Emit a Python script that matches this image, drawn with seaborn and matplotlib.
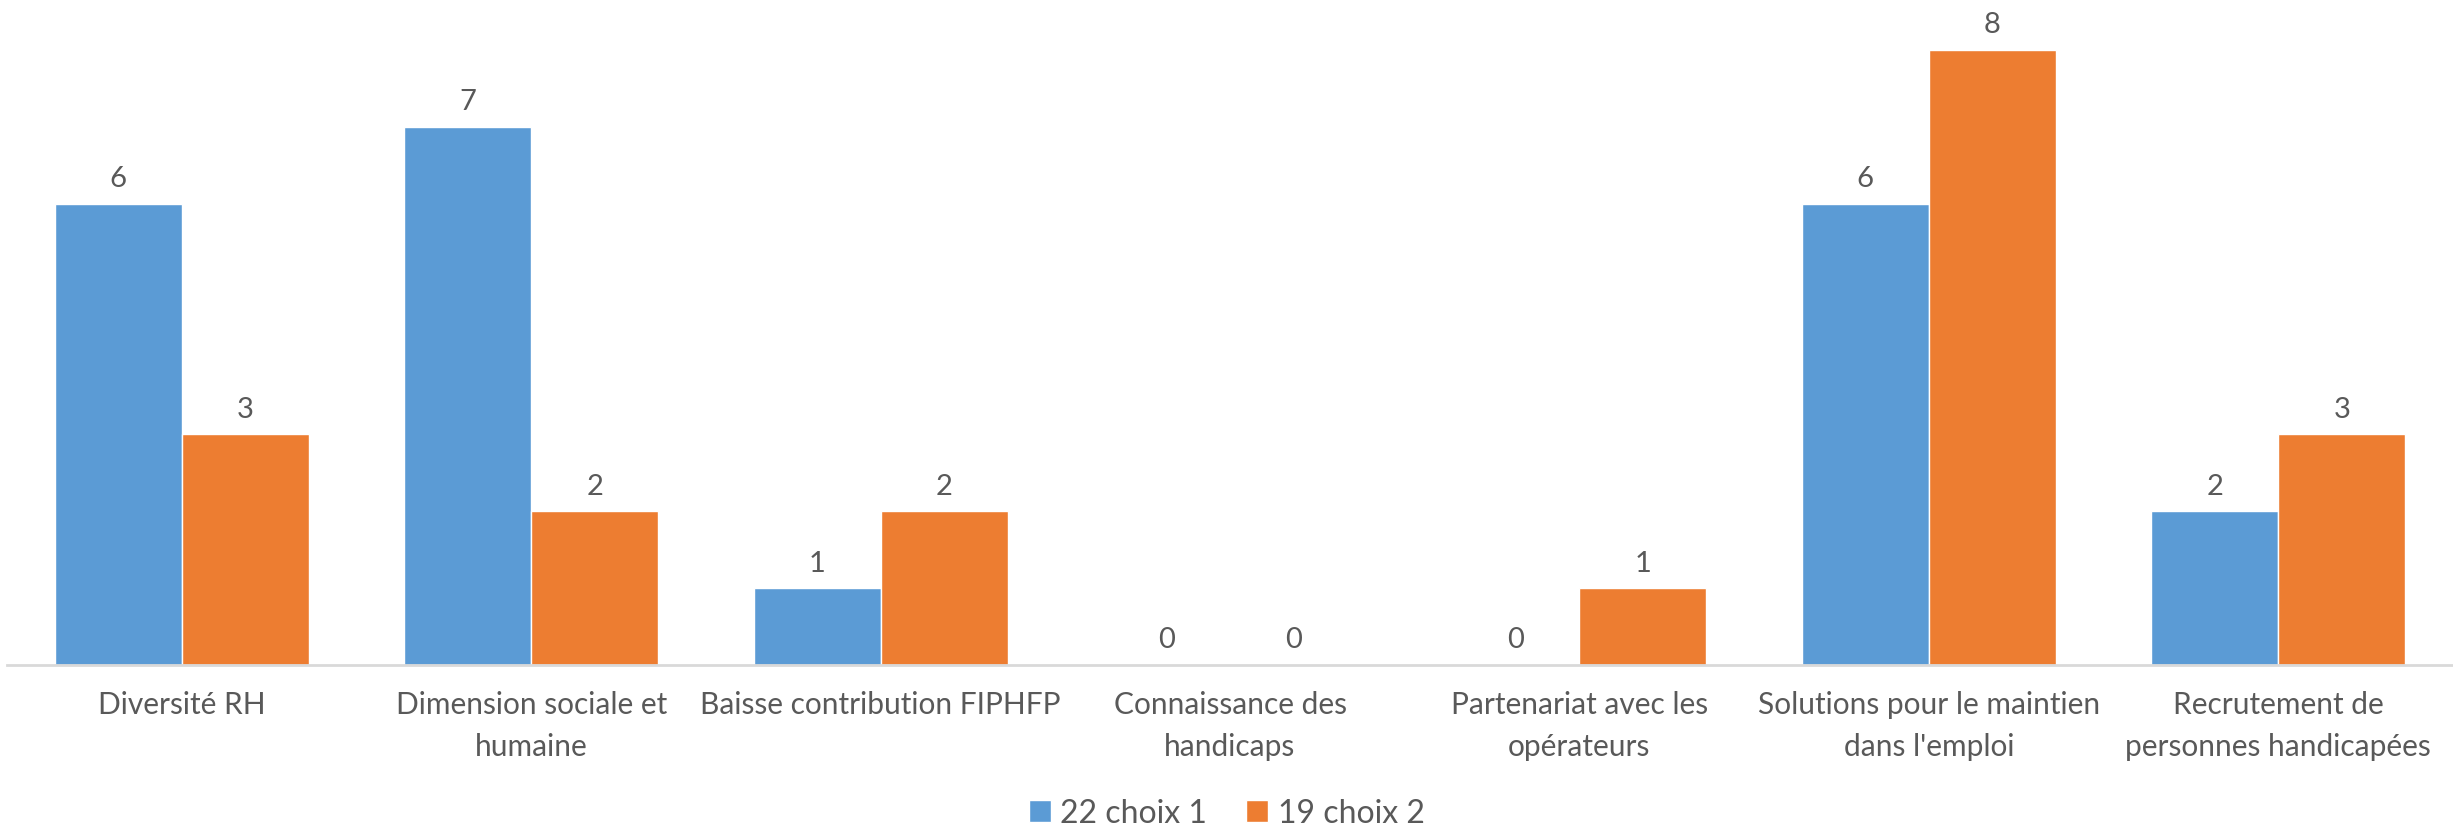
import matplotlib
matplotlib.use("Agg")
import matplotlib.pyplot as plt
import seaborn as sns
import pandas as pd

# values
categories = ["Diversité RH", "Dimension sociale et\nhumaine", "Baisse contribution FIPHFP",
              "Connaissance des\nhandicaps", "Partenariat avec les\nopérateurs",
              "Solutions pour le maintien\ndans l'emploi", "Recrutement de\npersonnes handicapées"]
choix1 = [6, 7, 1, 0, 0, 6, 2]
choix2 = [3, 2, 2, 0, 1, 8, 3]
series = ["22 choix 1", "19 choix 2"]

df = pd.DataFrame({
    "categorie": categories * 2,
    "valeur": choix1 + choix2,
    "serie": [series[0]] * len(categories) + [series[1]] * len(categories),
})

sns.set_style("white")
plt.rcParams["font.family"] = ["Lato", "DejaVu Sans"]
txt = "#595959"

fig = plt.figure(figsize=(24.53, 8.28), dpi=100)
ax = fig.add_axes([7 / 2453, 162 / 828, 1 - 7 / 2453, 666 / 828])

sns.barplot(data=df, x="categorie", y="valeur", hue="serie",
            palette=["#5B9BD5", "#ED7D31"], width=0.727, saturation=1,
            ax=ax, legend=True)

for cont in ax.containers:
    ax.bar_label(cont, fmt="%d", padding=9, fontsize=21, color=txt)

ax.set_ylim(0, 8.66)
ax.set_xlim(-0.5, len(categories) - 0.5)
ax.set_xlabel("")
ax.set_ylabel("")
ax.set_yticks([])
ax.tick_params(axis="x", length=0, pad=18, labelsize=21.5, labelcolor=txt)
for lab in ax.get_xticklabels():
    lab.set_linespacing(1.62)
for s in ["top", "right", "left"]:
    ax.spines[s].set_visible(False)
ax.spines["bottom"].set_color("#D9D9D9")
ax.spines["bottom"].set_linewidth(2)

handles, labels = ax.get_legend_handles_labels()
ax.get_legend().remove()
fig.legend(handles, labels, loc="center", bbox_to_anchor=(0.5, 14 / 828),
           ncol=2, frameon=False, fontsize=23, labelcolor=txt,
           handlelength=0.7, handleheight=0.7, handletextpad=0.3, columnspacing=1.2)

fig.savefig("out.png", dpi=100)
